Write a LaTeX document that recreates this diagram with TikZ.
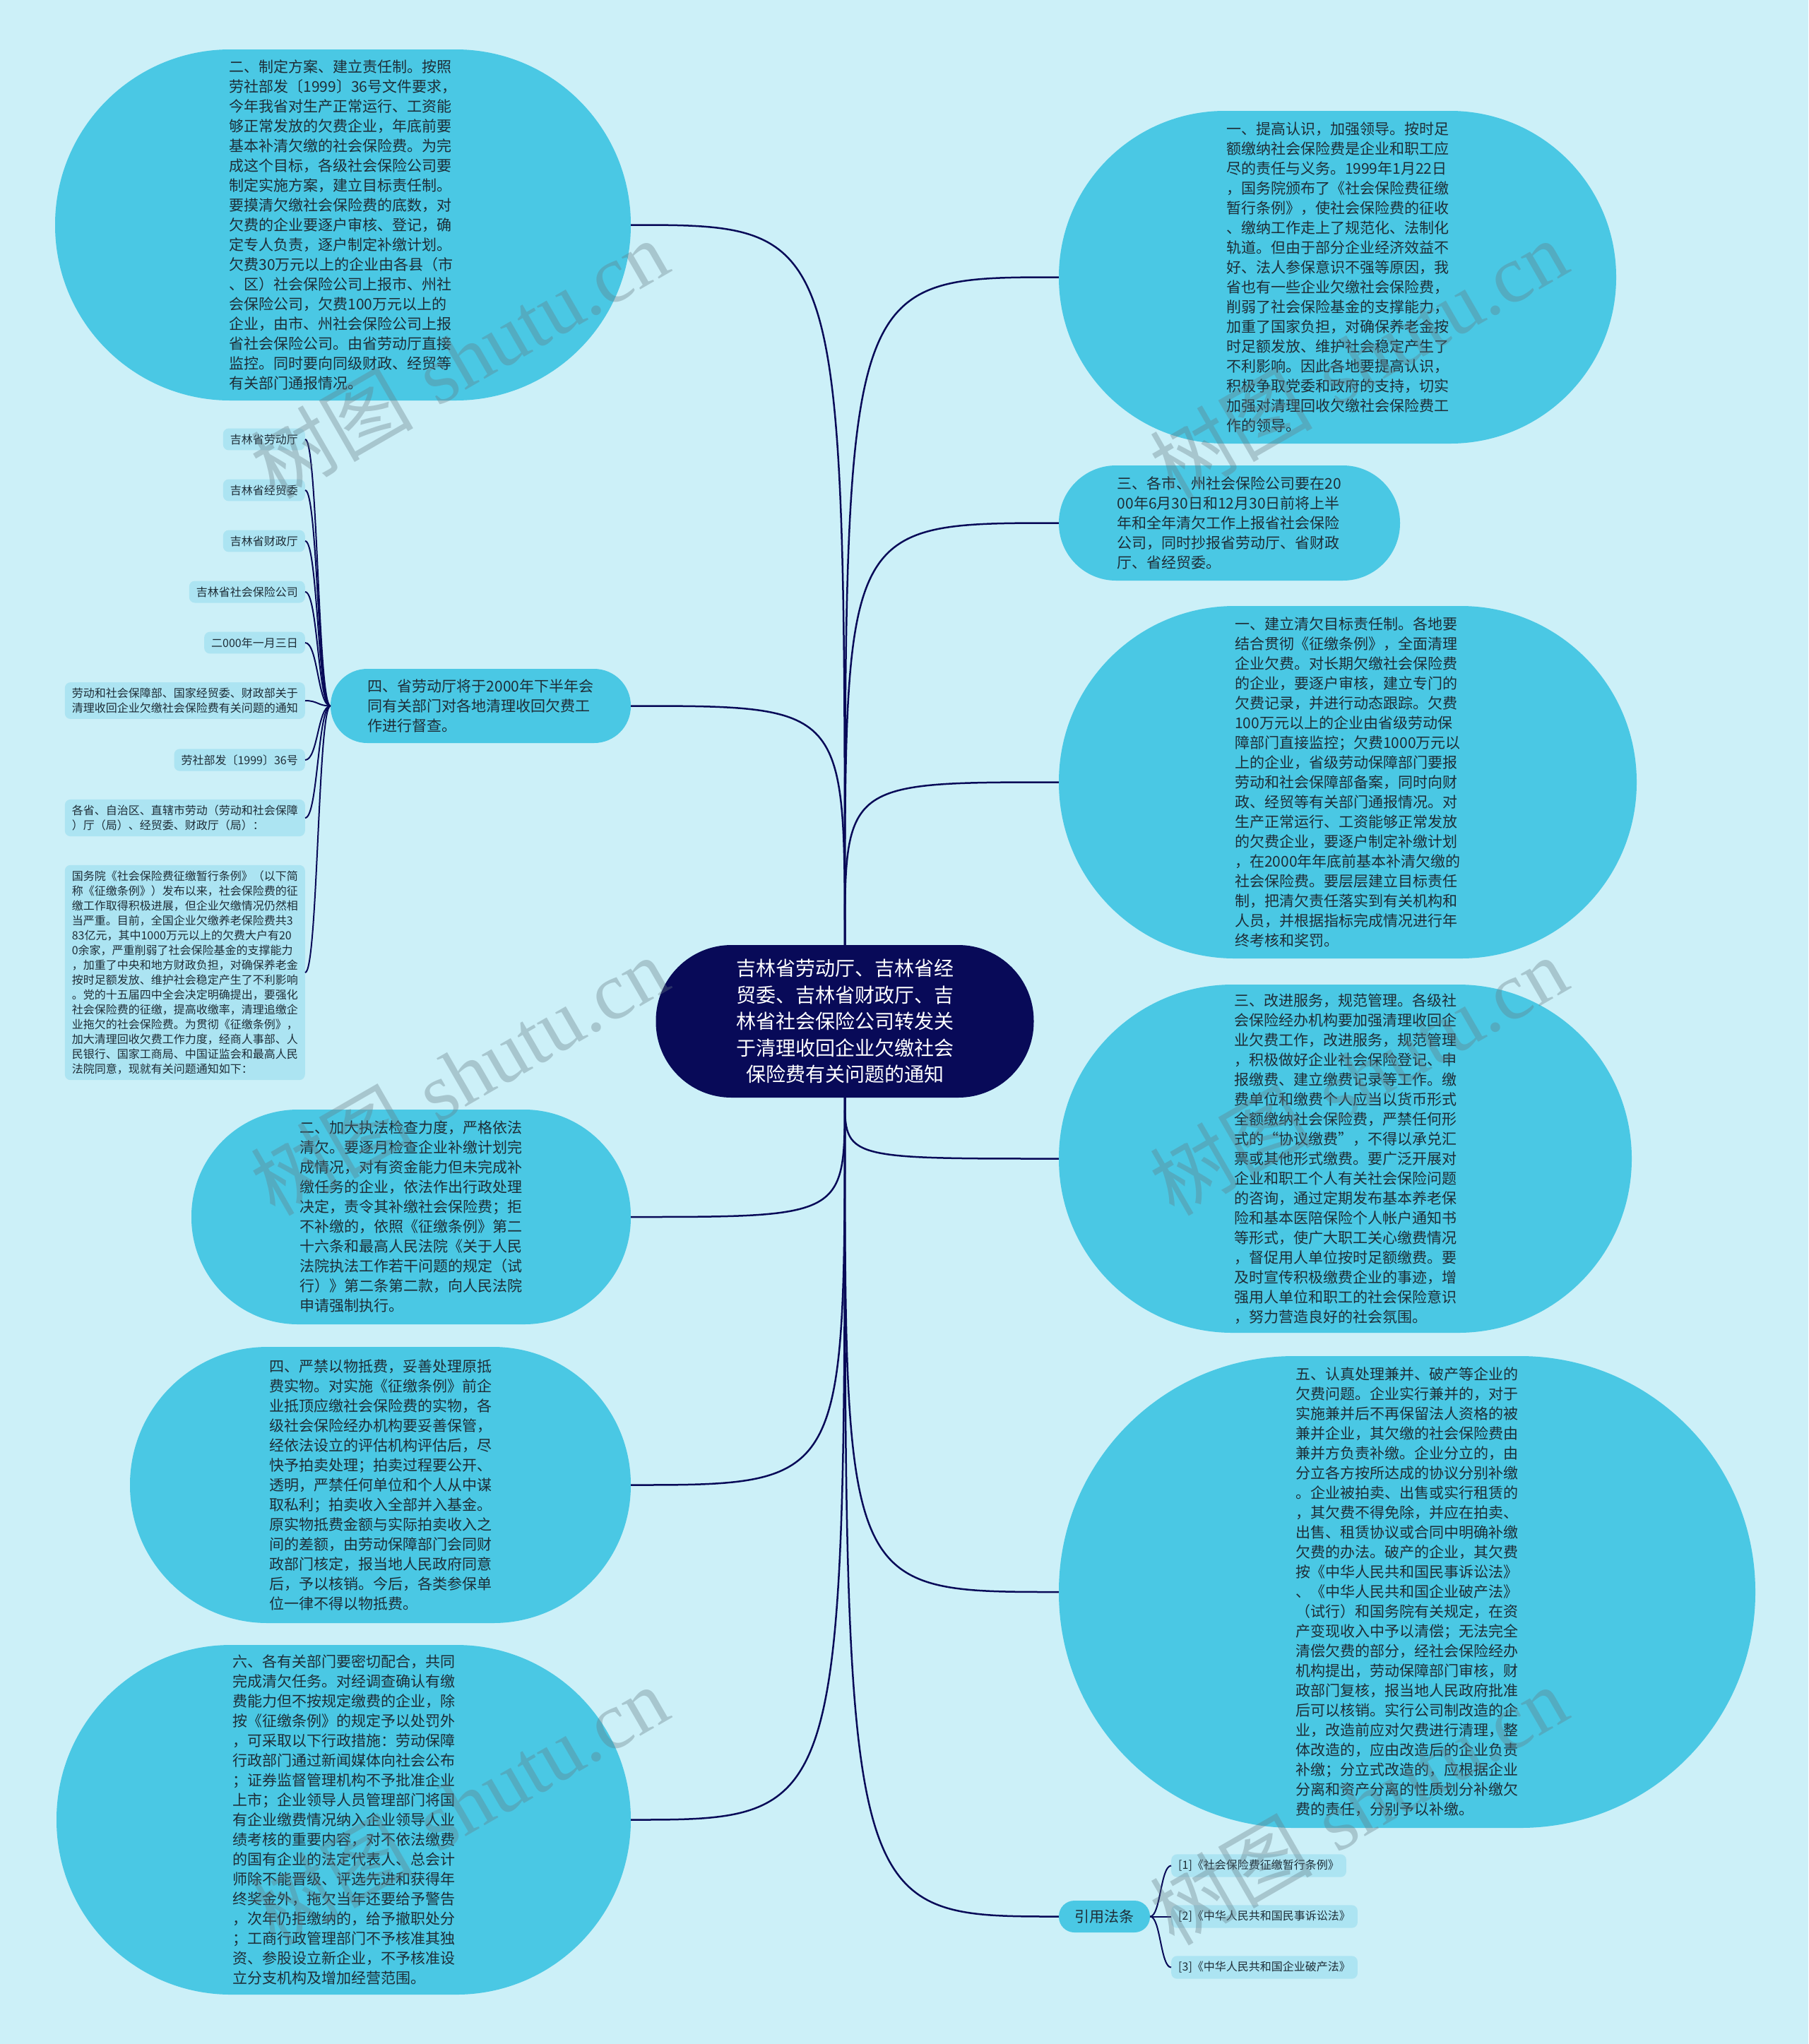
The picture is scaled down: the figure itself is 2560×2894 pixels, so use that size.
\documentclass[tikz,border=0pt]{standalone}
\usepackage{fontspec}
\newfontfamily\cjk{Noto Sans CJK SC}
\newfontfamily\wmserif{Liberation Serif}
\definecolor{bg}{RGB}{204,240,248}
\definecolor{bub}{RGB}{74,200,228}
\definecolor{lab}{RGB}{172,228,242}
\definecolor{navy}{RGB}{8,10,88}
\definecolor{txt}{RGB}{30,45,55}
\definecolor{wm}{RGB}{100,120,130}
\begin{document}
\begin{tikzpicture}[x=1pt,y=-1pt,
 bubble/.style={fill=bub, text=txt, align=left, font=\cjk\fontsize{21}{28}\selectfont, inner sep=0pt},
 lbl/.style={fill=lab, text=txt, align=left, font=\cjk\fontsize{16}{21}\selectfont, rounded corners=8pt, inner xsep=10pt, inner ysep=8pt},
 link/.style={draw=navy, line width=2.5pt},
 thinlink/.style={draw=navy, line width=2pt},
 wmark/.style={text=wm, opacity=0.35, rotate=30, font=\fontsize{115}{115}\selectfont}
]
\fill[bg] (0,0) rectangle (2560,2894);
\useasboundingbox (0,0) rectangle (2560,2894);

% centre
\node[fill=navy, text=white, align=center, font=\cjk\fontsize{28}{37.5}\selectfont, minimum width=535pt, minimum height=216pt, rounded corners=107pt, inner sep=0pt] (c) at (1196,1446)
{吉林省劳动厅、吉林省经\\贸委、吉林省财政厅、吉\\林省社会保险公司转发关\\于清理收回企业欠缴社会\\保险费有关问题的通知};

% left bubbles
\node[bubble, minimum width=815pt, minimum height=497pt, rounded corners=248pt] (tl) at (485.5,318.5)
{二、制定方案、建立责任制。按照\\劳社部发〔1999〕36号文件要求，\\今年我省对生产正常运行、工资能\\够正常发放的欠费企业，年底前要\\基本补清欠缴的社会保险费。为完\\成这个目标，各级社会保险公司要\\制定实施方案，建立目标责任制。\\要摸清欠缴社会保险费的底数，对\\欠费的企业要逐户审核、登记，确\\定专人负责，逐户制定补缴计划。\\欠费30万元以上的企业由各县（市\\、区）社会保险公司上报市、州社\\会保险公司，欠费100万元以上的\\企业，由市、州社会保险公司上报\\省社会保险公司。由省劳动厅直接\\监控。同时要向同级财政、经贸等\\有关部门通报情况。};

\node[bubble, minimum width=425pt, minimum height=105pt, rounded corners=52pt] (l4) at (680.5,999.5)
{四、省劳动厅将于2000年下半年会\\同有关部门对各地清理收回欠费工\\作进行督查。};

\node[bubble, minimum width=622pt, minimum height=304pt, rounded corners=151pt] (l2) at (582,1723)
{二、加大执法检查力度，严格依法\\清欠。要逐月检查企业补缴计划完\\成情况，对有资金能力但未完成补\\缴任务的企业，依法作出行政处理\\决定，责令其补缴社会保险费；拒\\不补缴的，依照《征缴条例》第二\\十六条和最高人民法院《关于人民\\法院执法工作若干问题的规定（试\\行）》第二条第二款，向人民法院\\申请强制执行。};

\node[bubble, minimum width=709pt, minimum height=391pt, rounded corners=195pt] (l4b) at (538.5,2102.5)
{四、严禁以物抵费，妥善处理原抵\\费实物。对实施《征缴条例》前企\\业抵顶应缴社会保险费的实物，各\\级社会保险经办机构要妥善保管，\\经依法设立的评估机构评估后，尽\\快予拍卖处理；拍卖过程要公开、\\透明，严禁任何单位和个人从中谋\\取私利；拍卖收入全部并入基金。\\原实物抵费金额与实际拍卖收入之\\间的差额，由劳动保障部门会同财\\政部门核定，报当地人民政府同意\\后，予以核销。今后，各类参保单\\位一律不得以物抵费。};

\node[bubble, minimum width=813pt, minimum height=495pt, rounded corners=247pt] (l6) at (486.5,2576.5)
{六、各有关部门要密切配合，共同\\完成清欠任务。对经调查确认有缴\\费能力但不按规定缴费的企业，除\\按《征缴条例》的规定予以处罚外\\，可采取以下行政措施：劳动保障\\行政部门通过新闻媒体向社会公布\\；证券监督管理机构不予批准企业\\上市；企业领导人员管理部门将国\\有企业缴费情况纳入企业领导人业\\绩考核的重要内容，对不依法缴费\\的国有企业的法定代表人、总会计\\师除不能晋级、评选先进和获得年\\终奖金外，拖欠当年还要给予警告\\，次年仍拒缴纳的，给予撤职处分\\；工商行政管理部门不予核准其独\\资、参股设立新企业，不予核准设\\立分支机构及增加经营范围。};

% right bubbles
\node[bubble, minimum width=789pt, minimum height=471pt, rounded corners=235pt] (r1) at (1893.5,392.5)
{一、提高认识，加强领导。按时足\\额缴纳社会保险费是企业和职工应\\尽的责任与义务。1999年1月22日\\，国务院颁布了《社会保险费征缴\\暂行条例》，使社会保险费的征收\\、缴纳工作走上了规范化、法制化\\轨道。但由于部分企业经济效益不\\好、法人参保意识不强等原因，我\\省也有一些企业欠缴社会保险费，\\削弱了社会保险基金的支撑能力，\\加重了国家负担，对确保养老金按\\时足额发放、维护社会稳定产生了\\不利影响。因此各地要提高认识，\\积极争取党委和政府的支持，切实\\加强对清理回收欠缴社会保险费工\\作的领导。};

\node[bubble, minimum width=483pt, minimum height=163pt, rounded corners=81pt] (r2) at (1740.5,740.5)
{三、各市、州社会保险公司要在20\\00年6月30日和12月30日前将上半\\年和全年清欠工作上报省社会保险\\公司，同时抄报省劳动厅、省财政\\厅、省经贸委。};

\node[bubble, minimum width=818pt, minimum height=499pt, rounded corners=249pt] (r3) at (1908,1107.5)
{一、建立清欠目标责任制。各地要\\结合贯彻《征缴条例》，全面清理\\企业欠费。对长期欠缴社会保险费\\的企业，要逐户审核，建立专门的\\欠费记录，并进行动态跟踪。欠费\\100万元以上的企业由省级劳动保\\障部门直接监控；欠费1000万元以\\上的企业，省级劳动保障部门要报\\劳动和社会保障部备案，同时向财\\政、经贸等有关部门通报情况。对\\生产正常运行、工资能够正常发放\\的欠费企业，要逐户制定补缴计划\\，在2000年年底前基本补清欠缴的\\社会保险费。要层层建立目标责任\\制，把清欠责任落实到有关机构和\\人员，并根据指标完成情况进行年\\终考核和奖罚。};

\node[bubble, minimum width=811pt, minimum height=493pt, rounded corners=246pt] (r4) at (1904.5,1640.5)
{三、改进服务，规范管理。各级社\\会保险经办机构要加强清理收回企\\业欠费工作，改进服务，规范管理\\，积极做好企业社会保险登记、申\\报缴费、建立缴费记录等工作。缴\\费单位和缴费个人应当以货币形式\\全额缴纳社会保险费，严禁任何形\\式的“协议缴费”，不得以承兑汇\\票或其他形式缴费。要广泛开展对\\企业和职工个人有关社会保险问题\\的咨询，通过定期发布基本养老保\\险和基本医陪保险个人帐户通知书\\等形式，使广大职工关心缴费情况\\，督促用人单位按时足额缴费。要\\及时宣传积极缴费企业的事迹，增\\强用人单位和职工的社会保险意识\\，努力营造良好的社会氛围。};

\node[bubble, minimum width=986pt, minimum height=668pt, rounded corners=333pt] (r5) at (1992,2254)
{五、认真处理兼并、破产等企业的\\欠费问题。企业实行兼并的，对于\\实施兼并后不再保留法人资格的被\\兼并企业，其欠缴的社会保险费由\\兼并方负责补缴。企业分立的，由\\分立各方按所达成的协议分别补缴\\。企业被拍卖、出售或实行租赁的\\，其欠费不得免除，并应在拍卖、\\出售、租赁协议或合同中明确补缴\\欠费的办法。破产的企业，其欠费\\按《中华人民共和国民事诉讼法》\\、《中华人民共和国企业破产法》\\（试行）和国务院有关规定，在资\\产变现收入中予以清偿；无法完全\\清偿欠费的部分，经社会保险经办\\机构提出，劳动保障部门审核，财\\政部门复核，报当地人民政府批准\\后可以核销。实行公司制改造的企\\业，改造前应对欠费进行清理，整\\体改造的，应由改造后的企业负责\\补缴；分立式改造的，应根据企业\\分离和资产分离的性质划分补缴欠\\费的责任，分别予以补缴。};

\node[bubble, align=center, minimum width=129pt, minimum height=45pt, rounded corners=22pt] (yy) at (1563.5,2713.5) {引用法条};

% left labels
\node[lbl, anchor=east] (a1) at (432,622) {吉林省劳动厅};
\node[lbl, anchor=east] (a2) at (432,694) {吉林省经贸委};
\node[lbl, anchor=east] (a3) at (432,766) {吉林省财政厅};
\node[lbl, anchor=east] (a4) at (432,838) {吉林省社会保险公司};
\node[lbl, anchor=east] (a5) at (432,910) {二000年一月三日};
\node[lbl, anchor=east] (a6) at (432,992) {劳动和社会保障部、国家经贸委、财政部关于\\清理收回企业欠缴社会保险费有关问题的通知};
\node[lbl, anchor=east] (a7) at (432,1076) {劳社部发〔1999〕36号};
\node[lbl, anchor=east] (a8) at (432,1158) {各省、自治区、直辖市劳动（劳动和社会保障\\）厅（局）、经贸委、财政厅（局）：};
\node[lbl, anchor=east] (a9) at (432,1377) {国务院《社会保险费征缴暂行条例》（以下简\\称《征缴条例》）发布以来，社会保险费的征\\缴工作取得积极进展，但企业欠缴情况仍然相\\当严重。目前，全国企业欠缴养老保险费共3\\83亿元，其中1000万元以上的欠费大户有20\\0余家，严重削弱了社会保险基金的支撑能力\\，加重了中央和地方财政负担，对确保养老金\\按时足额发放、维护社会稳定产生了不利影响\\。党的十五届四中全会决定明确提出，要强化\\社会保险费的征缴，提高收缴率，清理追缴企\\业拖欠的社会保险费。为贯彻《征缴条例》，\\加大清理回收欠费工作力度，经商人事部、人\\民银行、国家工商局、中国证监会和最高人民\\法院同意，现就有关问题通知如下：};

% references
\node[lbl, anchor=west] (f1) at (1658,2641.5) {[1]《社会保险费征缴暂行条例》};
\node[lbl, anchor=west] (f2) at (1658,2713.5) {[2]《中华人民共和国民事诉讼法》};
\node[lbl, anchor=west] (f3) at (1658,2785.5) {[3]《中华人民共和国企业破产法》};

% connectors from centre
\foreach \t/\a in {tl/east, l4/east, r1/west, r2/west, r3/west}
  \draw[link] (c.north) .. controls (c.north |- \t.\a) .. (\t.\a);
\foreach \t/\a in {l2/east, l4b/east, l6/east, r4/west, r5/west, yy/west}
  \draw[link] (c.south) .. controls (c.south |- \t.\a) .. (\t.\a);

% label brackets
\coordinate (lbx) at (450,0);
\foreach \t in {a1,a2,a3,a4,a5,a6,a7,a8,a9}
  \draw[thinlink] (l4.west) .. controls (lbx |- l4.west) and (lbx |- \t.east) .. (\t.east);
\coordinate (rbx) at (1643,0);
\foreach \t in {f1,f2,f3}
  \draw[thinlink] (yy.east) .. controls (rbx |- yy.east) and (rbx |- \t.west) .. (\t.west);

% watermarks
\foreach \n/\px/\py in {w1/650/508, w2/650/1523, w3/650/2556, w4/1923/508, w5/1923/1523, w6/1923/2556}
  \node[wmark] (\n) at (\px,\py) {{\cjk 树图} {\wmserif shutu.cn}};
\end{tikzpicture}
\end{document}
